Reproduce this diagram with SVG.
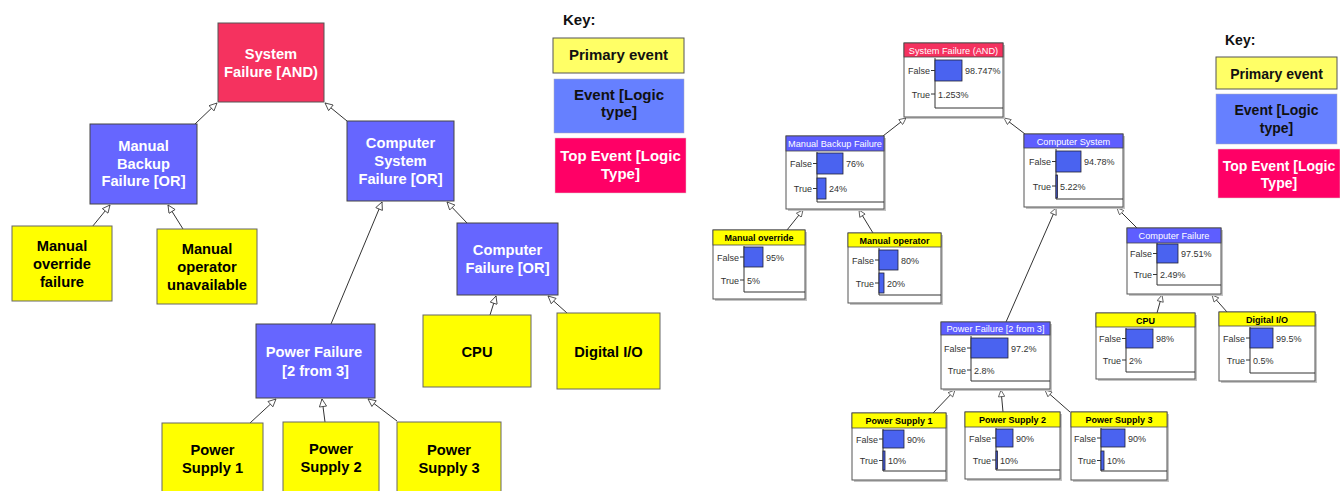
<svg xmlns="http://www.w3.org/2000/svg" width="1340" height="491" viewBox="0 0 1340 491">
<style>
.bg{fill:#ffffff}
.top{fill:#f5325f;stroke:#555;stroke-width:1}
.evt{fill:#6666ff;stroke:#444;stroke-width:1}
.pri{fill:#ffff00;stroke:#666;stroke-width:1}
.kpri{fill:#ffff66;stroke:#555;stroke-width:1}
.kevt{fill:#6680ff;stroke:#aab;stroke-width:0.5}
.ktop{fill:#ff0066;stroke:#dcc;stroke-width:0.5}
.tw{font-family:"Liberation Sans",Arial,sans-serif;font-weight:bold;font-size:14.7px;fill:#ffffff;text-anchor:middle}
.tb{font-family:"Liberation Sans",Arial,sans-serif;font-weight:bold;font-size:14.7px;fill:#000000;text-anchor:middle}
.kl{font-family:"Liberation Sans",Arial,sans-serif;font-weight:bold;font-size:15px;fill:#111}
.kt{font-family:"Liberation Sans",Arial,sans-serif;font-weight:bold;font-size:15px;fill:#111;text-anchor:middle}
.ktw{font-family:"Liberation Sans",Arial,sans-serif;font-weight:bold;font-size:15px;fill:#fff;text-anchor:middle}
.kl2{font-family:"Liberation Sans",Arial,sans-serif;font-weight:bold;font-size:14px;fill:#111}
.kt2{font-family:"Liberation Sans",Arial,sans-serif;font-weight:bold;font-size:14px;fill:#111;text-anchor:middle}
.ktw2{font-family:"Liberation Sans",Arial,sans-serif;font-weight:bold;font-size:14px;fill:#fff;text-anchor:middle}
.con{stroke:#333;stroke-width:1;fill:none;marker-end:url(#tri)}
.con2{stroke:#333;stroke-width:1;fill:none;marker-end:url(#tri2)}
.nb{fill:#ffffff;stroke:#555;stroke-width:1}
.sh{fill:#c4c4c4}
.hr{fill:#f5325f;stroke:#444;stroke-width:0.8}
.hb{fill:#5e5eff;stroke:#444;stroke-width:0.8}
.hy{fill:#ffff00;stroke:#444;stroke-width:0.8}
.ht{font-family:"Liberation Sans",Arial,sans-serif;font-size:9.2px;fill:#ffffff;text-anchor:middle}
.hty{font-family:"Liberation Sans",Arial,sans-serif;font-weight:bold;font-size:9px;fill:#000;text-anchor:middle}
.ax{stroke:#333;stroke-width:1;fill:none}
.bar{fill:#4a63f0;stroke:#223;stroke-width:0.8}
.lb{font-family:"Liberation Sans",Arial,sans-serif;font-size:9px;fill:#333;text-anchor:end}
.pc{font-family:"Liberation Sans",Arial,sans-serif;font-size:9px;fill:#333}
</style>
<defs>
<marker id="tri" viewBox="0 0 10 10" refX="10" refY="5" markerWidth="9" markerHeight="8" orient="auto" markerUnits="userSpaceOnUse">
<path d="M0.5,0.5 L10,5 L0.5,9.5 z" fill="#fff" stroke="#333" stroke-width="1"/>
</marker>
<marker id="tri2" viewBox="0 0 10 10" refX="10" refY="5" markerWidth="8" markerHeight="7" orient="auto" markerUnits="userSpaceOnUse">
<path d="M0.5,0.5 L10,5 L0.5,9.5 z" fill="#fff" stroke="#333" stroke-width="1"/>
</marker>
</defs>
<rect class="bg" x="0" y="0" width="1340" height="491"/>

<!-- LEFT DIAGRAM connectors -->
<g id="connectors-left">
<line class="con" x1="195" y1="124" x2="217" y2="103"/>
<line class="con" x1="347" y1="121" x2="325" y2="103"/>
<line class="con" x1="92" y1="227" x2="110" y2="205"/>
<line class="con" x1="183" y1="229" x2="168" y2="205"/>
<line class="con" x1="331" y1="324" x2="382" y2="202"/>
<line class="con" x1="467" y1="223" x2="447" y2="202"/>
<line class="con" x1="490" y1="315" x2="496" y2="296"/>
<line class="con" x1="567" y1="313" x2="548" y2="296"/>
<line class="con" x1="250" y1="423" x2="276" y2="399"/>
<line class="con" x1="325" y1="422" x2="322" y2="399"/>
<line class="con" x1="397" y1="421" x2="368" y2="399"/>
</g>

<g id="l-system-failure">
<rect class="top" x="218" y="23" width="106" height="79"/>
<text class="tw" x="271" y="59">System</text>
<text class="tw" x="271" y="77">Failure [AND)</text>
</g>
<g id="l-manual-backup">
<rect class="evt" x="90" y="124" width="107" height="80"/>
<text class="tw" x="143.5" y="151">Manual</text>
<text class="tw" x="143.5" y="168.5">Backup</text>
<text class="tw" x="143.5" y="186">Failure [OR]</text>
</g>
<g id="l-computer-system">
<rect class="evt" x="347" y="121" width="107" height="80"/>
<text class="tw" x="400.5" y="148">Computer</text>
<text class="tw" x="400.5" y="166">System</text>
<text class="tw" x="400.5" y="184">Failure [OR]</text>
</g>
<g id="l-manual-override">
<rect class="pri" x="12" y="226" width="100" height="75"/>
<text class="tb" x="62" y="251">Manual</text>
<text class="tb" x="62" y="269">override</text>
<text class="tb" x="62" y="287">failure</text>
</g>
<g id="l-manual-operator">
<rect class="pri" x="157" y="229" width="100" height="75"/>
<text class="tb" x="207" y="254">Manual</text>
<text class="tb" x="207" y="272">operator</text>
<text class="tb" x="207" y="290">unavailable</text>
</g>
<g id="l-computer-failure">
<rect class="evt" x="457" y="223" width="101" height="72"/>
<text class="tw" x="507.5" y="255">Computer</text>
<text class="tw" x="507.5" y="273">Failure [OR]</text>
</g>
<g id="l-cpu">
<rect class="pri" x="423" y="315" width="108" height="72"/>
<text class="tb" x="477" y="357">CPU</text>
</g>
<g id="l-digital-io">
<rect class="pri" x="557" y="313" width="103" height="76"/>
<text class="tb" x="608.5" y="357">Digital I/O</text>
</g>
<g id="l-power-failure">
<rect class="evt" x="256" y="324" width="119" height="74"/>
<text class="tw" x="314" y="357">Power Failure</text>
<text class="tw" x="315.5" y="376">[2 from 3]</text>
</g>
<g id="l-ps1">
<rect class="pri" x="162" y="423" width="101" height="70"/>
<text class="tb" x="212.5" y="455">Power</text>
<text class="tb" x="212.5" y="473">Supply 1</text>
</g>
<g id="l-ps2">
<rect class="pri" x="283" y="422" width="96" height="71"/>
<text class="tb" x="331" y="454">Power</text>
<text class="tb" x="331" y="472">Supply 2</text>
</g>
<g id="l-ps3">
<rect class="pri" x="397" y="422" width="104" height="71"/>
<text class="tb" x="449" y="455">Power</text>
<text class="tb" x="449" y="473">Supply 3</text>
</g>

<g id="l-key">
<text class="kl" x="563" y="25">Key:</text>
<rect class="kpri" x="553" y="38" width="131" height="35"/>
<text class="kt" x="618.5" y="60">Primary event</text>
<rect class="kevt" x="554" y="79" width="130" height="54"/>
<text class="kt" x="619" y="100">Event [Logic</text>
<text class="kt" x="619" y="117">type]</text>
<rect class="ktop" x="555" y="138" width="131" height="55"/>
<text class="ktw" x="620.5" y="161">Top Event [Logic</text>
<text class="ktw" x="620.5" y="179">Type]</text>
</g>

<!-- RIGHT DIAGRAM connectors -->
<g id="connectors-right">
<line class="con2" x1="883" y1="136" x2="906" y2="118"/>
<line class="con2" x1="1025" y1="134" x2="1004" y2="118"/>
<line class="con2" x1="787" y1="230" x2="803" y2="210"/>
<line class="con2" x1="873" y1="233" x2="859" y2="210"/>
<line class="con2" x1="1006" y1="322" x2="1056" y2="208"/>
<line class="con2" x1="1137" y1="228" x2="1117" y2="208"/>
<line class="con2" x1="1157" y1="313" x2="1162" y2="295"/>
<line class="con2" x1="1227" y1="312" x2="1212" y2="295"/>
<line class="con2" x1="933" y1="413" x2="955" y2="390"/>
<line class="con2" x1="1003" y1="412" x2="1001" y2="390"/>
<line class="con2" x1="1070" y1="412" x2="1045" y2="390"/>
</g>

<g id="r-system-failure">
<rect class="sh" x="906" y="45" width="99" height="74"/>
<rect class="nb" x="904" y="43" width="99" height="74"/>
<rect class="hr" x="904" y="43" width="99" height="14"/>
<text class="ht" x="953.5" y="53.5">System Failure (AND)</text>
<path class="ax" d="M935,58 V108 H1003"/>
<rect class="bar" x="935" y="60" width="27" height="21"/>
<line class="ax" x1="931" y1="70.5" x2="935" y2="70.5"/>
<line class="ax" x1="931" y1="94" x2="935" y2="94"/>
<text class="lb" x="930" y="74">False</text>
<text class="lb" x="930" y="97.5">True</text>
<text class="pc" x="965" y="74">98.747%</text>
<text class="pc" x="938" y="97.5">1.253%</text>
</g>
<g id="r-manual-backup">
<rect class="sh" x="788" y="138" width="98" height="73"/>
<rect class="nb" x="786" y="136" width="98" height="73"/>
<rect class="hb" x="786" y="136" width="98" height="15"/>
<text class="ht" x="835" y="147">Manual Backup Failure</text>
<path class="ax" d="M817,152 V202 H884"/>
<rect class="bar" x="817" y="153" width="26" height="21"/>
<rect class="bar" x="817" y="178" width="9" height="21"/>
<line class="ax" x1="813" y1="163.5" x2="817" y2="163.5"/>
<line class="ax" x1="813" y1="188.5" x2="817" y2="188.5"/>
<text class="lb" x="812" y="167">False</text>
<text class="lb" x="812" y="192">True</text>
<text class="pc" x="846" y="167">76%</text>
<text class="pc" x="829" y="192">24%</text>
</g>
<g id="r-computer-system">
<rect class="sh" x="1026" y="136" width="99" height="73"/>
<rect class="nb" x="1024" y="134" width="99" height="73"/>
<rect class="hb" x="1024" y="134" width="99" height="14"/>
<text class="ht" x="1073.5" y="144.5">Computer System</text>
<path class="ax" d="M1056,149 V199 H1123"/>
<rect class="bar" x="1056" y="151" width="25" height="21"/>
<rect class="bar" x="1056" y="175" width="1.5" height="23"/>
<line class="ax" x1="1052" y1="161.5" x2="1056" y2="161.5"/>
<line class="ax" x1="1052" y1="186" x2="1056" y2="186"/>
<text class="lb" x="1051" y="165">False</text>
<text class="lb" x="1051" y="189.5">True</text>
<text class="pc" x="1084" y="165">94.78%</text>
<text class="pc" x="1060" y="189.5">5.22%</text>
</g>
<g id="r-computer-failure">
<rect class="sh" x="1129" y="230" width="94" height="66"/>
<rect class="nb" x="1127" y="228" width="94" height="66"/>
<rect class="hb" x="1127" y="228" width="94" height="15"/>
<text class="ht" x="1174" y="239">Computer Failure</text>
<path class="ax" d="M1157,243 V285 H1221"/>
<rect class="bar" x="1157" y="244" width="21" height="19"/>
<line class="ax" x1="1153" y1="253.5" x2="1157" y2="253.5"/>
<line class="ax" x1="1153" y1="274.5" x2="1157" y2="274.5"/>
<text class="lb" x="1152" y="257">False</text>
<text class="lb" x="1152" y="278">True</text>
<text class="pc" x="1181" y="257">97.51%</text>
<text class="pc" x="1160" y="278">2.49%</text>
</g>
<g id="r-cpu">
<rect class="sh" x="1098" y="315" width="99" height="66"/>
<rect class="nb" x="1096" y="313" width="99" height="66"/>
<rect class="hy" x="1096" y="313" width="99" height="14"/>
<text class="hty" x="1145.5" y="323.5">CPU</text>
<path class="ax" d="M1126,328 V372 H1195"/>
<rect class="bar" x="1126" y="329" width="27" height="19"/>
<line class="ax" x1="1122" y1="338.5" x2="1126" y2="338.5"/>
<line class="ax" x1="1122" y1="360" x2="1126" y2="360"/>
<text class="lb" x="1121" y="342">False</text>
<text class="lb" x="1121" y="363.5">True</text>
<text class="pc" x="1156" y="342">98%</text>
<text class="pc" x="1129" y="363.5">2%</text>
</g>
<g id="r-digital-io">
<rect class="sh" x="1221" y="314" width="96" height="69"/>
<rect class="nb" x="1219" y="312" width="96" height="69"/>
<rect class="hy" x="1219" y="312" width="96" height="14"/>
<text class="hty" x="1267" y="322.5">Digital I/O</text>
<path class="ax" d="M1250,327 V373 H1315"/>
<rect class="bar" x="1250" y="328" width="23" height="20"/>
<line class="ax" x1="1246" y1="338" x2="1250" y2="338"/>
<line class="ax" x1="1246" y1="360" x2="1250" y2="360"/>
<text class="lb" x="1245" y="341.5">False</text>
<text class="lb" x="1245" y="363.5">True</text>
<text class="pc" x="1276" y="341.5">99.5%</text>
<text class="pc" x="1253" y="363.5">0.5%</text>
</g>
<g id="r-manual-override">
<rect class="sh" x="715" y="232" width="92" height="69"/>
<rect class="nb" x="713" y="230" width="92" height="69"/>
<rect class="hy" x="713" y="230" width="92" height="15"/>
<text class="hty" x="759" y="241">Manual override</text>
<path class="ax" d="M744,246 V292 H805"/>
<rect class="bar" x="744" y="247" width="19" height="20"/>
<line class="ax" x1="740" y1="257" x2="744" y2="257"/>
<line class="ax" x1="740" y1="280" x2="744" y2="280"/>
<text class="lb" x="739" y="260.5">False</text>
<text class="lb" x="739" y="283.5">True</text>
<text class="pc" x="766" y="260.5">95%</text>
<text class="pc" x="747" y="283.5">5%</text>
</g>
<g id="r-manual-operator">
<rect class="sh" x="850" y="235" width="93" height="70"/>
<rect class="nb" x="848" y="233" width="93" height="70"/>
<rect class="hy" x="848" y="233" width="93" height="14"/>
<text class="hty" x="894.5" y="243.5">Manual operator</text>
<path class="ax" d="M879,248 V295 H941"/>
<rect class="bar" x="879" y="250" width="19" height="20"/>
<rect class="bar" x="879" y="273" width="5" height="20"/>
<line class="ax" x1="875" y1="260" x2="879" y2="260"/>
<line class="ax" x1="875" y1="283" x2="879" y2="283"/>
<text class="lb" x="874" y="263.5">False</text>
<text class="lb" x="874" y="286.5">True</text>
<text class="pc" x="901" y="263.5">80%</text>
<text class="pc" x="887" y="286.5">20%</text>
</g>
<g id="r-power-failure">
<rect class="sh" x="943" y="324" width="109" height="67"/>
<rect class="nb" x="941" y="322" width="109" height="67"/>
<rect class="hb" x="941" y="322" width="109" height="13"/>
<text class="ht" x="995.5" y="332">Power Failure [2 from 3]</text>
<path class="ax" d="M971,336 V381 H1050"/>
<rect class="bar" x="971" y="338" width="37" height="20"/>
<line class="ax" x1="967" y1="348" x2="971" y2="348"/>
<line class="ax" x1="967" y1="370" x2="971" y2="370"/>
<text class="lb" x="966" y="351.5">False</text>
<text class="lb" x="966" y="373.5">True</text>
<text class="pc" x="1011" y="351.5">97.2%</text>
<text class="pc" x="974" y="373.5">2.8%</text>
</g>
<g id="r-ps1">
<rect class="sh" x="854" y="415" width="94" height="67"/>
<rect class="nb" x="852" y="413" width="94" height="67"/>
<rect class="hy" x="852" y="413" width="94" height="15"/>
<text class="hty" x="899" y="424">Power Supply 1</text>
<path class="ax" d="M883,429 V471 H946"/>
<rect class="bar" x="883" y="430" width="21" height="18"/>
<rect class="bar" x="883" y="451" width="2" height="19"/>
<line class="ax" x1="879" y1="439" x2="883" y2="439"/>
<line class="ax" x1="879" y1="460.5" x2="883" y2="460.5"/>
<text class="lb" x="878" y="442.5">False</text>
<text class="lb" x="878" y="464">True</text>
<text class="pc" x="907" y="442.5">90%</text>
<text class="pc" x="888" y="464">10%</text>
</g>
<g id="r-ps2">
<rect class="sh" x="967" y="414" width="95" height="67"/>
<rect class="nb" x="965" y="412" width="95" height="67"/>
<rect class="hy" x="965" y="412" width="95" height="15"/>
<text class="hty" x="1012.5" y="423">Power Supply 2</text>
<path class="ax" d="M996,428 V470 H1060"/>
<rect class="bar" x="996" y="429" width="17" height="18"/>
<rect class="bar" x="996" y="451" width="1.5" height="18"/>
<line class="ax" x1="992" y1="438" x2="996" y2="438"/>
<line class="ax" x1="992" y1="460" x2="996" y2="460"/>
<text class="lb" x="991" y="441.5">False</text>
<text class="lb" x="991" y="463.5">True</text>
<text class="pc" x="1016" y="441.5">90%</text>
<text class="pc" x="1000" y="463.5">10%</text>
</g>
<g id="r-ps3">
<rect class="sh" x="1073" y="414" width="96" height="68"/>
<rect class="nb" x="1071" y="412" width="96" height="68"/>
<rect class="hy" x="1071" y="412" width="96" height="15"/>
<text class="hty" x="1119" y="423">Power Supply 3</text>
<path class="ax" d="M1101,428 V471 H1167"/>
<rect class="bar" x="1101" y="429" width="24" height="18"/>
<rect class="bar" x="1101" y="451" width="3" height="19"/>
<line class="ax" x1="1097" y1="438" x2="1101" y2="438"/>
<line class="ax" x1="1097" y1="460.5" x2="1101" y2="460.5"/>
<text class="lb" x="1096" y="441.5">False</text>
<text class="lb" x="1096" y="464">True</text>
<text class="pc" x="1128" y="441.5">90%</text>
<text class="pc" x="1107" y="464">10%</text>
</g>

<g id="r-key">
<text class="kl2" x="1225" y="45">Key:</text>
<rect class="kpri" x="1216" y="57" width="121" height="32"/>
<text class="kt2" x="1276.5" y="79">Primary event</text>
<rect class="kevt" x="1216" y="94" width="121" height="50"/>
<text class="kt2" x="1276.5" y="115">Event [Logic</text>
<text class="kt2" x="1276.5" y="133">type]</text>
<rect class="ktop" x="1218" y="149" width="122" height="49"/>
<text class="ktw2" x="1279" y="171">Top Event [Logic</text>
<text class="ktw2" x="1279" y="188">Type]</text>
</g>
</svg>
